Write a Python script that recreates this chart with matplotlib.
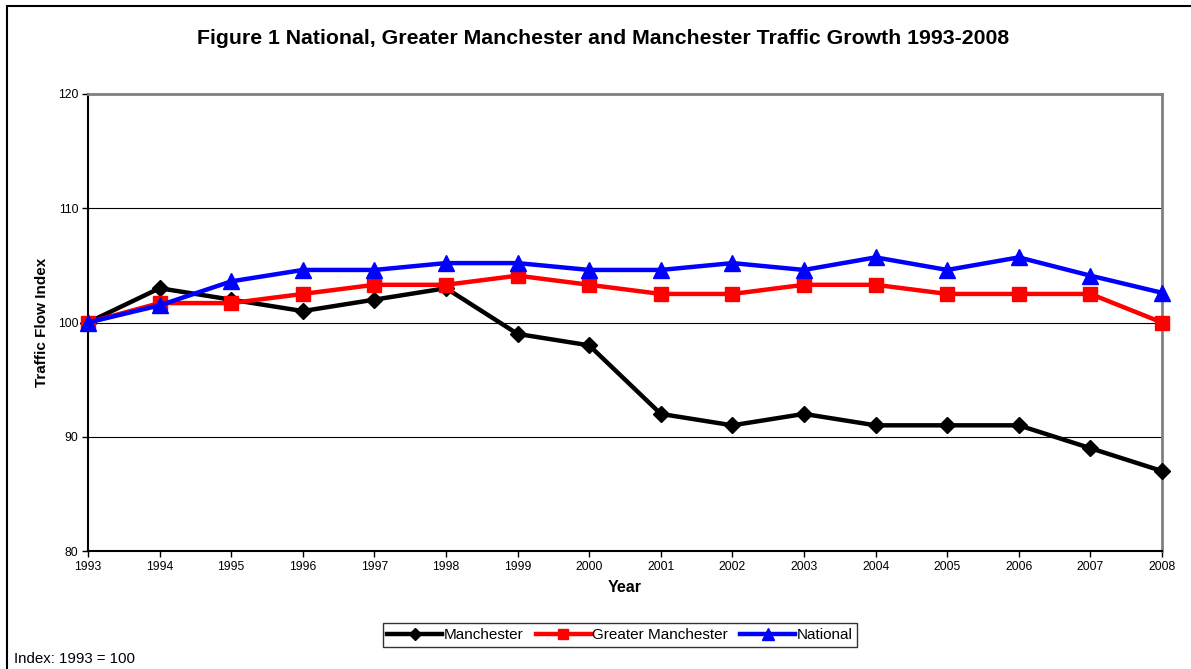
import matplotlib
matplotlib.use("Agg")
import matplotlib.pyplot as plt
from matplotlib.patches import Rectangle

years = list(range(1993, 2009))
manchester = [100, 103, 102, 101, 102, 103, 99, 98, 92, 91, 92, 91, 91, 91, 89, 87]
greater_manchester = [100, 101.7, 101.7, 102.5, 103.3, 103.3, 104.1, 103.3, 102.5, 102.5,
                      103.3, 103.3, 102.5, 102.5, 102.5, 100]
national = [100, 101.5, 103.6, 104.6, 104.6, 105.2, 105.2, 104.6, 104.6, 105.2,
            104.6, 105.7, 104.6, 105.7, 104.1, 102.6]
yticks = [80, 90, 100, 110, 120]

plt.rcParams['font.family'] = ['Liberation Sans', 'DejaVu Sans']

W, H = 1191, 669
fig = plt.figure(figsize=(W / 100, H / 100), dpi=100)

# outer border
fig.patches.append(Rectangle((7 / W, -0.05), 1.1, 1 - 6 / H + 0.05, transform=fig.transFigure,
                             fill=False, edgecolor='#000000', linewidth=1.5))

ax = fig.add_axes([88 / W, 1 - 551 / H, (1162 - 88) / W, (551 - 94) / H])
ax.plot(years, manchester, color='black', lw=3.2, marker='D', ms=8.5, label='Manchester',
        zorder=3, clip_on=False)
ax.plot(years, greater_manchester, color='#ff0000', lw=3.2, marker='s', ms=10,
        label='Greater Manchester', zorder=4, clip_on=False)
ax.plot(years, national, color='#0000ff', lw=3.2, marker='^', ms=11, label='National',
        zorder=5, clip_on=False)

ax.set_xlim(1993, 2008)
ax.set_ylim(80, 120)
ax.set_xticks(years)
ax.set_xticklabels([str(y) for y in years], fontsize=8.7)
ax.set_yticks(yticks)
ax.set_yticklabels([str(v) for v in yticks], fontsize=8.7)
for v in [90, 100, 110]:
    ax.axhline(v, color='black', lw=0.8, zorder=1)
ax.spines['top'].set_color('#808080')
ax.spines['right'].set_color('#808080')
ax.spines['top'].set_linewidth(2)
ax.spines['right'].set_linewidth(2)
ax.spines['left'].set_linewidth(1.5)
ax.spines['bottom'].set_linewidth(1.5)
ax.tick_params(axis='both', direction='out', length=4, width=1, pad=3)
ax.set_xlabel('Year', fontsize=11.5, fontweight='bold', labelpad=5)
ax.set_ylabel('Traffic Flow Index', fontsize=11, fontweight='bold', labelpad=6)

fig.text(603 / W, 1 - 38 / H, 'Figure 1 National, Greater Manchester and Manchester Traffic Growth 1993-2008',
         ha='center', va='center', fontsize=15.3, fontweight='bold')

leg = fig.legend(loc='center', bbox_to_anchor=(620 / W, 1 - 635 / H), ncol=3, fontsize=11,
                 frameon=True, fancybox=False, edgecolor='black', handlelength=3.6,
                 handletextpad=0.1, columnspacing=0.8, borderpad=0.3, markerscale=0.75)
leg.get_frame().set_linewidth(1)

fig.text(14 / W, 1 - 659 / H, 'Index: 1993 = 100', ha='left', va='center', fontsize=10.8)

fig.savefig('out.png', dpi=100)
